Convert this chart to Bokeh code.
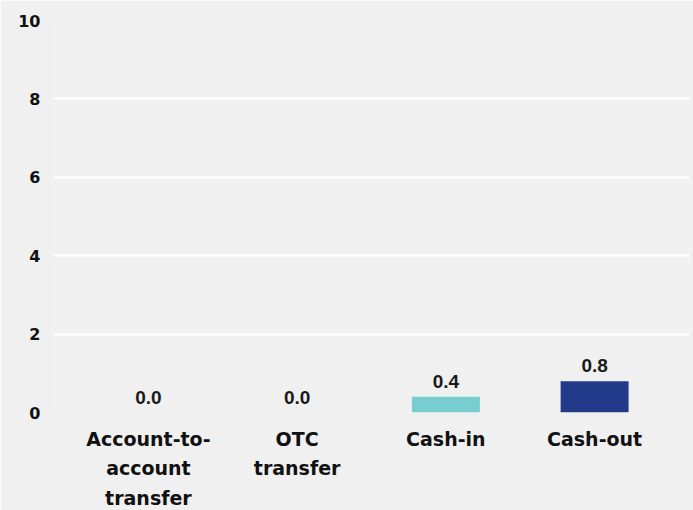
from bokeh.plotting import figure
from bokeh.models import ColumnDataSource, FactorRange, LabelSet, FixedTicker
from bokeh.core.properties import value
from bokeh.embed import file_html
from bokeh.resources import INLINE

categories = ["Account-to-\naccount\ntransfer", "OTC\ntransfer", "Cash-in", "Cash-out"]
values = [0.0, 0.0, 0.4, 0.8]
colors = ["#78cdd0", "#78cdd0", "#78cdd0", "#233a8b"]
labels = ["%.1f" % v for v in values]
y_ticks = [0, 2, 4, 6, 8, 10]

src = ColumnDataSource(dict(cat=categories, val=values, color=colors, label=labels))

BG = "#f0f0f0"
p = figure(
    x_range=FactorRange(factors=categories, range_padding=0.069),
    y_range=(0, 10),
    frame_width=636, frame_height=392,
    width=693, height=510,
    min_border_left=53, min_border_right=4, min_border_top=20, min_border_bottom=98,
    output_backend="svg", toolbar_location=None,
    background_fill_color=BG, border_fill_color=BG,
)
p.outline_line_color = None

p.vbar(x="cat", top="val", width=0.457, fill_color="color", line_color=None, source=src)

lbl = LabelSet(x="cat", y="val", text="label", source=src, y_offset=9,
               text_align="center", text_baseline="bottom",
               text_font=value("Liberation Sans"), text_font_style="bold",
               text_font_size="19px", text_color="#1a1a1a")
p.add_layout(lbl)

p.xgrid.grid_line_color = None
p.ygrid.grid_line_color = "white"
p.ygrid.grid_line_width = 2
p.yaxis.ticker = FixedTicker(ticks=y_ticks)

for ax in (p.xaxis, p.yaxis):
    ax.axis_line_color = None
    ax.major_tick_line_color = None
    ax.minor_tick_line_color = None
    ax.major_label_text_font = "DejaVu Sans"
    ax.major_label_text_font_style = "bold"
    ax.major_label_text_color = "#111111"

p.yaxis.major_label_text_font_size = "16px"
p.yaxis.major_label_standoff = 7
p.xaxis.major_label_text_font_size = "19px"
p.xaxis.major_label_standoff = 9
p.xaxis.major_label_text_line_height = 1.35

open("out.html", "w").write(file_html(p, INLINE))
